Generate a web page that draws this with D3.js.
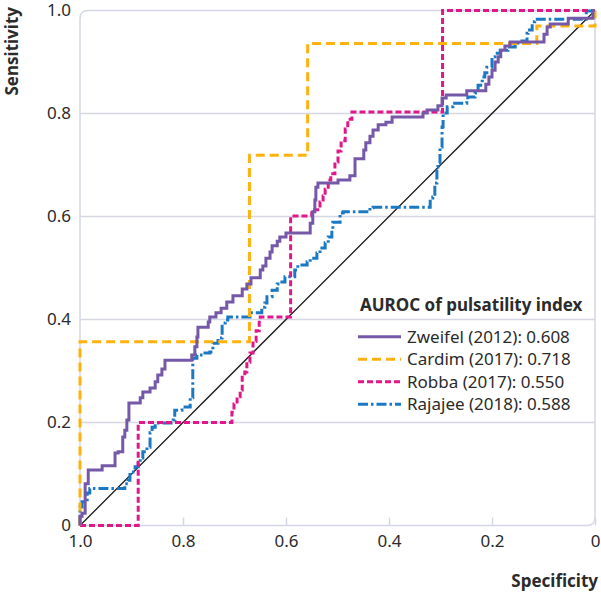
<!DOCTYPE html>
<html>
<head>
<meta charset="utf-8">
<script src="https://cdn.jsdelivr.net/npm/d3@7"></script>
<style>
  html, body { margin: 0; padding: 0; background: #fff; }
  svg { display: block; font-family: "Noto Sans", "Open Sans", sans-serif; }
</style>
</head>
<body>
<svg id="chart" width="601" height="592"></svg>
<script>
// ---- data: [specificity, sensitivity] step vertices ----
const zweifel = [
  [1.000,0.000],[1.000,0.018],[0.996,0.024],[0.990,0.081],[0.984,0.108],[0.957,0.116],
  [0.932,0.141],[0.926,0.143],[0.917,0.172],[0.913,0.185],[0.909,0.205],[0.905,0.238],
  [0.883,0.248],[0.878,0.259],[0.864,0.267],[0.854,0.279],[0.849,0.292],[0.841,0.304],
  [0.835,0.321],[0.783,0.331],[0.777,0.347],[0.773,0.366],[0.771,0.385],[0.751,0.395],
  [0.748,0.405],[0.736,0.413],[0.726,0.422],[0.715,0.434],[0.703,0.446],[0.685,0.459],
  [0.676,0.469],[0.668,0.481],[0.650,0.496],[0.645,0.504],[0.639,0.519],[0.631,0.531],
  [0.627,0.543],[0.617,0.552],[0.612,0.560],[0.600,0.568],[0.553,0.587],[0.548,0.609],
  [0.544,0.632],[0.542,0.657],[0.538,0.665],[0.499,0.671],[0.476,0.679],[0.466,0.712],
  [0.449,0.729],[0.445,0.743],[0.437,0.756],[0.431,0.768],[0.421,0.778],[0.406,0.783],
  [0.394,0.793],[0.334,0.801],[0.326,0.807],[0.305,0.815],[0.297,0.830],[0.289,0.836],
  [0.249,0.844],[0.212,0.857],[0.206,0.871],[0.200,0.884],[0.194,0.900],[0.188,0.910],
  [0.183,0.923],[0.175,0.931],[0.165,0.939],[0.099,0.954],[0.093,0.968],[0.087,0.974],
  [0.052,0.985],[0.004,1.000],[0.000,1.000]
];
const cardim = [
  [1.000,0.000],[1.000,0.357],[0.671,0.719],[0.558,0.936],[0.113,0.970],[0.000,1.000]
];
const robba = [
  [1.000,0.000],[0.887,0.200],[0.705,0.220],[0.701,0.236],[0.695,0.250],[0.689,0.263],
  [0.685,0.288],[0.680,0.298],[0.676,0.317],[0.670,0.335],[0.664,0.358],[0.658,0.378],
  [0.652,0.399],[0.650,0.405],[0.591,0.601],[0.550,0.613],[0.534,0.628],[0.528,0.640],
  [0.524,0.653],[0.518,0.671],[0.513,0.683],[0.505,0.706],[0.499,0.727],[0.493,0.747],
  [0.485,0.770],[0.480,0.789],[0.472,0.803],[0.296,1.000],[0.000,1.000]
];
const rajajee = [
  [1.000,0.000],[1.000,0.036],[0.996,0.046],[0.986,0.063],[0.981,0.072],[0.913,0.081],
  [0.907,0.088],[0.903,0.104],[0.893,0.114],[0.887,0.121],[0.883,0.131],[0.878,0.143],
  [0.870,0.152],[0.864,0.180],[0.860,0.191],[0.854,0.199],[0.819,0.205],[0.816,0.224],
  [0.802,0.230],[0.786,0.248],[0.781,0.325],[0.773,0.331],[0.761,0.335],[0.748,0.337],
  [0.742,0.354],[0.732,0.364],[0.724,0.393],[0.718,0.399],[0.713,0.405],[0.670,0.413],
  [0.647,0.424],[0.641,0.432],[0.637,0.444],[0.627,0.457],[0.617,0.469],[0.608,0.473],
  [0.602,0.483],[0.583,0.496],[0.577,0.506],[0.559,0.512],[0.553,0.519],[0.540,0.529],
  [0.534,0.539],[0.524,0.549],[0.518,0.560],[0.511,0.574],[0.509,0.589],[0.495,0.607],
  [0.489,0.609],[0.437,0.617],[0.431,0.618],[0.320,0.636],[0.315,0.638],[0.311,0.665],
  [0.307,0.696],[0.305,0.704],[0.301,0.735],[0.297,0.774],[0.295,0.801],[0.287,0.813],
  [0.276,0.820],[0.249,0.826],[0.247,0.832],[0.233,0.840],[0.227,0.855],[0.219,0.871],
  [0.214,0.879],[0.210,0.890],[0.200,0.910],[0.194,0.917],[0.184,0.923],[0.169,0.929],
  [0.155,0.937],[0.146,0.941],[0.132,0.956],[0.130,0.962],[0.122,0.978],[0.117,0.983],
  [0.017,0.999],[0.000,1.000]
];
const chance = [[1,0],[0,1]];

const seriesNames = ["Zweifel (2012)", "Cardim (2017)", "Robba (2017)", "Rajajee (2018)"];
const aurocValues = ["0.608", "0.718", "0.550", "0.588"];
const xTickValues = [1.0, 0.8, 0.6, 0.4, 0.2, 0];
const yTickValues = [0, 0.2, 0.4, 0.6, 0.8, 1.0];
const legendTitle = "AUROC of pulsatility index";
const xLabel = "Specificity";
const yLabel = "Sensitivity";

// ---- styles ----
const styles = [
  { color: "#7559a8", dash: null },
  { color: "#ffb20f", dash: "9,5" },
  { color: "#e0178b", dash: "6,3" },
  { color: "#1b79c3", dash: "10,3,2.5,3" }
];
const seriesData = [zweifel, cardim, robba, rajajee];

const svg = d3.select("#chart");
const L = 80, R = 595, T = 10.5, B = 525.5;
const x = d3.scaleLinear().domain([1, 0]).range([L, R]);
const y = d3.scaleLinear().domain([0, 1]).range([B, T]);
const fmt = d => d === 0 ? "0" : d3.format(".1f")(d);
const gridColor = "#d5d8e4";
const textColor = "#2b2b2b";

// gridlines
svg.append("g").selectAll("line")
  .data(yTickValues.filter(d => d > 0 && d < 1))
  .join("line")
  .attr("x1", L).attr("x2", R)
  .attr("y1", d => y(d)).attr("y2", d => y(d))
  .attr("stroke", gridColor).attr("stroke-width", 1.5);

// frame with rounded top-left and bottom-right corners
const r = 8;
svg.append("path")
  .attr("d", `M${L},${B} V${T + r} Q${L},${T} ${L + r},${T} H${R} V${B - r} Q${R},${B} ${R - r},${B} H${L}`)
  .attr("fill", "none").attr("stroke", gridColor).attr("stroke-width", 1.5);

// x axis
const xAxis = svg.append("g")
  .attr("transform", `translate(0,${B})`)
  .call(d3.axisBottom(x).tickValues(xTickValues).tickFormat(fmt).tickSizeInner(-8).tickSizeOuter(0).tickPadding(9));
xAxis.select(".domain").remove();
xAxis.selectAll(".tick line").attr("stroke", gridColor).attr("stroke-width", 1.5);
xAxis.selectAll(".tick text").attr("font-size", 17).attr("fill", textColor)
  .attr("font-family", "Noto Sans, sans-serif");

// y axis
const yAxis = svg.append("g")
  .attr("transform", `translate(${L},0)`)
  .call(d3.axisLeft(y).tickValues(yTickValues).tickFormat(fmt).tickSize(0).tickPadding(9));
yAxis.select(".domain").remove();
yAxis.selectAll(".tick text").attr("font-size", 17).attr("fill", textColor)
  .attr("font-family", "Noto Sans, sans-serif");

// axis titles
svg.append("text")
  .attr("transform", `translate(18,7) rotate(-90)`)
  .attr("text-anchor", "end")
  .attr("font-size", 17).attr("font-weight", "bold").attr("fill", textColor)
  .text(yLabel);
svg.append("text")
  .attr("x", 598).attr("y", 587)
  .attr("text-anchor", "end")
  .attr("font-size", 17).attr("font-weight", "bold").attr("fill", textColor)
  .text(xLabel);

// chance diagonal
svg.append("path")
  .datum(chance)
  .attr("d", d3.line().x(d => x(d[0])).y(d => y(d[1])))
  .attr("fill", "none").attr("stroke", "#1a1a1a").attr("stroke-width", 1.3);

// ROC curves
const line = d3.line().x(d => x(d[0])).y(d => y(d[1])).curve(d3.curveStepAfter);
const drawOrder = [3, 2, 1, 0];
drawOrder.forEach(i => {
  svg.append("path")
    .datum(seriesData[i])
    .attr("d", line)
    .attr("fill", "none")
    .attr("stroke", styles[i].color)
    .attr("stroke-width", 3)
    .attr("stroke-dasharray", styles[i].dash)
    .attr("stroke-linejoin", "miter");
});

// legend
const lg = svg.append("g");
lg.append("text")
  .attr("x", 360).attr("y", 311)
  .attr("font-size", 17).attr("font-weight", "bold").attr("fill", textColor)
  .text(legendTitle);
seriesNames.forEach((name, i) => {
  const yy = 336.7 + i * 22.5;
  lg.append("line")
    .attr("x1", 358).attr("x2", 401).attr("y1", yy).attr("y2", yy)
    .attr("stroke", styles[i].color).attr("stroke-width", 3)
    .attr("stroke-dasharray", styles[i].dash);
  lg.append("text")
    .attr("x", 407).attr("y", yy + 6)
    .attr("font-size", 17).attr("fill", textColor)
    .text(`${name}: ${aurocValues[i]}`);
});
</script>
</body>
</html>
